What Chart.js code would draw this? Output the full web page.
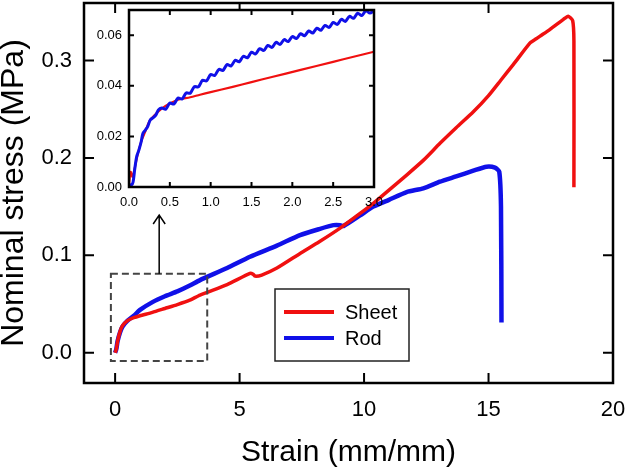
<!DOCTYPE html>
<html>
<head>
<meta charset="utf-8">
<script src="https://cdn.jsdelivr.net/npm/chart.js@4.4.1/dist/chart.umd.min.js"></script>
<style>
  html, body { margin: 0; padding: 0; background: #fff; }
  #wrap { position: relative; width: 625px; height: 468px; }
  #mainChart { position: absolute; left: 0; top: 0; }
  #insetChart { position: absolute; left: 80px; top: 0; }
</style>
</head>
<body>
<div id="wrap">
  <canvas id="mainChart" width="625" height="468"></canvas>
  <canvas id="insetChart" width="310" height="215"></canvas>
</div>
<script>
// main plot - Sheet
const sheetStrain = [0, 0.05, 0.1, 0.2, 0.3, 0.5, 0.75, 1.0, 1.5, 2.0, 2.5, 3.0, 3.41, 4.5, 5.42, 5.55, 5.62, 5.89, 6.5, 7.43, 8.2, 9.04, 9.84, 10.37, 11.0, 11.71, 12.4, 13.05, 13.7, 14.39, 15.0, 15.5, 16.0, 16.67, 16.9, 17.07, 17.47, 18.0, 18.2, 18.38, 18.43, 18.43];
const sheetStress = [0, 0.004, 0.012, 0.022, 0.028, 0.033, 0.036, 0.038, 0.0415, 0.0455, 0.0495, 0.054, 0.0593, 0.070, 0.0815, 0.0805, 0.0787, 0.0798, 0.087, 0.102, 0.114, 0.128, 0.143, 0.1534, 0.167, 0.1824, 0.198, 0.215, 0.231, 0.2474, 0.264, 0.280, 0.296, 0.318, 0.322, 0.325, 0.332, 0.342, 0.3455, 0.341, 0.32, 0.170];

// main plot - Rod
const rodStrain = [0, 0.05, 0.1, 0.2, 0.3, 0.5, 0.75, 1.0, 1.5, 2.0, 2.5, 3.0, 3.41, 4.5, 5.42, 6.5, 7.43, 8.2, 8.77, 9.04, 9.17, 9.84, 10.37, 11.0, 11.71, 12.38, 13.05, 13.7, 14.39, 14.92, 15.26, 15.43, 15.5, 15.52];
const rodStress = [0, 0.004, 0.012, 0.021, 0.027, 0.033, 0.038, 0.044, 0.052, 0.058, 0.063, 0.069, 0.0746, 0.087, 0.0986, 0.110, 0.1208, 0.127, 0.131, 0.131, 0.130, 0.141, 0.150, 0.157, 0.165, 0.1688, 0.1756, 0.181, 0.1869, 0.191, 0.190, 0.186, 0.150, 0.031];

// inset - Sheet
const sheetStrainZoom = [0, 0.02, 0.04, 0.06, 0.1, 0.15, 0.2, 0.25, 0.3, 0.4, 0.5, 0.6, 0.75, 0.87, 1.0, 1.27, 1.5, 1.75, 2.09, 2.5, 2.75, 3.0];
const sheetStressZoom = [0.001, 0.006, 0.004, 0.006, 0.012, 0.018, 0.022, 0.026, 0.028, 0.031, 0.033, 0.0345, 0.0355, 0.0365, 0.0375, 0.0396, 0.0415, 0.0435, 0.0462, 0.0495, 0.0515, 0.0535];

// inset - Rod (wavy)
const rodStrainZoom = [0, 0.03, 0.05, 0.07, 0.094, 0.12, 0.15, 0.17, 0.2, 0.23, 0.26, 0.3, 0.33, 0.36,
  0.40, 0.45, 0.50, 0.55, 0.60, 0.65, 0.70, 0.75, 0.80, 0.85, 0.90, 0.95, 1.00, 1.05, 1.10, 1.15, 1.20, 1.25,
  1.30, 1.35, 1.40, 1.45, 1.50, 1.55, 1.60, 1.65, 1.70, 1.75, 1.80, 1.85, 1.90, 1.95, 2.00, 2.05, 2.10, 2.15,
  2.20, 2.25, 2.30, 2.35, 2.40, 2.45, 2.50, 2.55, 2.60, 2.65, 2.70, 2.75, 2.80, 2.85, 2.90, 2.95, 3.00];
const rodStressZoom = [0.001, 0.0008, 0.002, 0.007, 0.012, 0.0145, 0.018, 0.0212, 0.0225, 0.024, 0.0265, 0.0275, 0.0285, 0.0305,
  0.0312, 0.0308, 0.0332, 0.0328, 0.0352, 0.0348, 0.0372, 0.0371, 0.0397, 0.0396, 0.0422, 0.0420, 0.0445, 0.0441, 0.0465, 0.0461, 0.0484, 0.0479,
  0.0501, 0.0495, 0.0517, 0.0511, 0.0533, 0.0526, 0.0547, 0.0540, 0.0560, 0.0552, 0.0572, 0.0564, 0.0583, 0.0575, 0.0595, 0.0587, 0.0606, 0.0598,
  0.0617, 0.0609, 0.0628, 0.0620, 0.0639, 0.0631, 0.0651, 0.0643, 0.0663, 0.0655, 0.0675, 0.0667, 0.0687, 0.0678, 0.0697, 0.0688, 0.0698];

const strainTicks = [0, 5, 10, 15, 20];
const stressTicks = [0, 0.1, 0.2, 0.3];
const strainTicksZoom = [0, 0.5, 1.0, 1.5, 2.0, 2.5, 3.0];
const stressTicksZoom = [0, 0.02, 0.04, 0.06];

const seriesNames = ['Sheet', 'Rod'];
const RED = '#f01010';
const BLUE = '#1010e8';

Chart.defaults.font.family = '"Liberation Sans", Arial, sans-serif';
Chart.defaults.color = '#000';

function toPoints(xs, ys) {
    return xs.map((x, i) => ({ x: x, y: ys[i] }));
}

// fixed axis size, no extra padding for edge labels
function fixSize(prop, size) {
    return s => {
        s[prop] = size;
        s.paddingTop = 0;
        s.paddingBottom = 0;
        s.paddingLeft = 0;
        s.paddingRight = 0;
    };
}

// frame box + inward ticks on all four sides
function frameTicks(xt, yt, len, frameWidth) {
    return {
        id: 'frameTicks',
        afterDatasetsDraw(chart) {
            const { ctx, chartArea: a, scales: { x, y } } = chart;
            ctx.save();
            ctx.strokeStyle = '#000';
            ctx.lineWidth = 2;
            ctx.beginPath();
            xt.forEach(v => {
                const px = x.getPixelForValue(v);
                ctx.moveTo(px, a.bottom); ctx.lineTo(px, a.bottom - len);
                ctx.moveTo(px, a.top); ctx.lineTo(px, a.top + len);
            });
            yt.forEach(v => {
                const py = y.getPixelForValue(v);
                ctx.moveTo(a.left, py); ctx.lineTo(a.left + len, py);
                ctx.moveTo(a.right, py); ctx.lineTo(a.right - len, py);
            });
            ctx.stroke();
            ctx.lineWidth = frameWidth;
            ctx.strokeRect(a.left, a.top, a.right - a.left, a.bottom - a.top);
            ctx.restore();
        }
    };
}

// dashed zoom box, arrow and legend on the main plot
const annotations = {
    id: 'annotations',
    afterDatasetsDraw(chart) {
        const { ctx, scales: { x, y } } = chart;
        ctx.save();
        // dashed box around the zoomed region
        const bx0 = x.getPixelForValue(-0.17), bx1 = x.getPixelForValue(3.7);
        const by0 = y.getPixelForValue(0.081), by1 = y.getPixelForValue(-0.0085);
        ctx.strokeStyle = '#444';
        ctx.lineWidth = 2;
        ctx.setLineDash([7, 4]);
        ctx.strokeRect(bx0, by0, bx1 - bx0, by1 - by0);
        ctx.setLineDash([]);

        // arrow up to the inset
        const ax = x.getPixelForValue(1.77);
        const ay0 = y.getPixelForValue(0.081), ay1 = y.getPixelForValue(0.1414);
        ctx.strokeStyle = '#000';
        ctx.lineWidth = 1.5;
        ctx.beginPath();
        ctx.moveTo(ax, ay0); ctx.lineTo(ax, ay1);
        ctx.moveTo(ax - 6, ay1 + 9); ctx.lineTo(ax, ay1); ctx.lineTo(ax + 6, ay1 + 9);
        ctx.stroke();

        // legend
        ctx.fillStyle = '#fff';
        ctx.fillRect(275, 289, 134, 72);
        ctx.strokeStyle = '#222';
        ctx.lineWidth = 1.5;
        ctx.strokeRect(275, 289, 134, 72);
        const colors = [RED, BLUE];
        ctx.font = '20px "Liberation Sans", Arial, sans-serif';
        ctx.textBaseline = 'middle';
        seriesNames.forEach((name, i) => {
            const ly = 312 + i * 26;
            ctx.strokeStyle = colors[i];
            ctx.lineWidth = 4;
            ctx.beginPath();
            ctx.moveTo(284, ly); ctx.lineTo(334, ly);
            ctx.stroke();
            ctx.fillStyle = '#000';
            ctx.fillText(name, 345, ly + 1);
        });
        ctx.restore();
    }
};

new Chart(document.getElementById('mainChart'), {
    type: 'line',
    data: {
        datasets: [{
            label: seriesNames[0],
            data: toPoints(sheetStrain, sheetStress),
            borderColor: RED,
            borderWidth: 3.5,
            pointRadius: 0,
            tension: 0.2,
            fill: false
        }, {
            label: seriesNames[1],
            data: toPoints(rodStrain, rodStress),
            borderColor: BLUE,
            borderWidth: 4.5,
            pointRadius: 0,
            tension: 0.2,
            fill: false
        }]
    },
    options: {
        responsive: false,
        animation: false,
        layout: { padding: { top: 3, right: 12, left: 0, bottom: 0 } },
        plugins: {
            legend: { display: false },
            tooltip: { enabled: false }
        },
        scales: {
            x: {
                type: 'linear',
                min: -1.25,
                max: 20,
                grid: { display: false, drawTicks: false },
                border: { display: false },
                afterBuildTicks: s => { s.ticks = strainTicks.map(v => ({ value: v })); },
                afterFit: fixSize('height', 85),
                ticks: {
                    font: { size: 22 },
                    color: '#000',
                    padding: 14,
                    maxRotation: 0,
                    callback: v => String(v)
                },
                title: {
                    display: true,
                    text: 'Strain (mm/mm)',
                    color: '#000',
                    font: { size: 30, lineHeight: 1 },
                    padding: { top: 0, bottom: 0 }
                }
            },
            y: {
                type: 'linear',
                min: -0.031,
                max: 0.359,
                grid: { display: false, drawTicks: false },
                border: { display: false },
                afterBuildTicks: s => { s.ticks = stressTicks.map(v => ({ value: v })); },
                afterFit: fixSize('width', 84),
                ticks: {
                    font: { size: 22 },
                    color: '#000',
                    padding: 12,
                    callback: v => v.toFixed(1)
                },
                title: {
                    display: true,
                    text: 'Nominal stress (MPa)',
                    color: '#000',
                    font: { size: 32, lineHeight: 0.9 },
                    padding: { top: 0, bottom: 0 }
                }
            }
        }
    },
    plugins: [annotations, frameTicks(strainTicks, stressTicks, 10, 2.5)]
});

// inset
const whiteArea = {
    id: 'whiteArea',
    beforeDatasetsDraw(chart) {
        const a = chart.chartArea;
        chart.ctx.save();
        chart.ctx.fillStyle = '#fff';
        chart.ctx.fillRect(a.left, a.top, a.right - a.left, a.bottom - a.top);
        chart.ctx.restore();
    }
};

new Chart(document.getElementById('insetChart'), {
    type: 'line',
    data: {
        datasets: [{
            label: seriesNames[1],
            data: toPoints(rodStrainZoom, rodStressZoom),
            borderColor: BLUE,
            borderWidth: 3,
            pointRadius: 0,
            tension: 0.3,
            fill: false
        }, {
            label: seriesNames[0],
            data: toPoints(sheetStrainZoom, sheetStressZoom),
            borderColor: RED,
            borderWidth: 2.2,
            pointRadius: 0,
            tension: 0.3,
            fill: false
        }]
    },
    options: {
        responsive: false,
        animation: false,
        layout: { padding: { top: 10, right: 16, left: 0, bottom: 0 } },
        plugins: {
            legend: { display: false },
            tooltip: { enabled: false }
        },
        scales: {
            x: {
                type: 'linear',
                min: 0,
                max: 3,
                grid: { display: false, drawTicks: false },
                border: { display: false },
                afterBuildTicks: s => { s.ticks = strainTicksZoom.map(v => ({ value: v })); },
                afterFit: fixSize('height', 28),
                ticks: {
                    font: { size: 13 },
                    color: '#000',
                    padding: 8,
                    maxRotation: 0,
                    callback: v => v.toFixed(1)
                }
            },
            y: {
                type: 'linear',
                min: 0,
                max: 0.07,
                grid: { display: false, drawTicks: false },
                border: { display: false },
                afterBuildTicks: s => { s.ticks = stressTicksZoom.map(v => ({ value: v })); },
                afterFit: fixSize('width', 49),
                ticks: {
                    font: { size: 13 },
                    color: '#000',
                    padding: 7,
                    callback: v => v.toFixed(2)
                }
            }
        }
    },
    plugins: [whiteArea, frameTicks(strainTicksZoom, stressTicksZoom, 5, 2.5)]
});
</script>
</body>
</html>
